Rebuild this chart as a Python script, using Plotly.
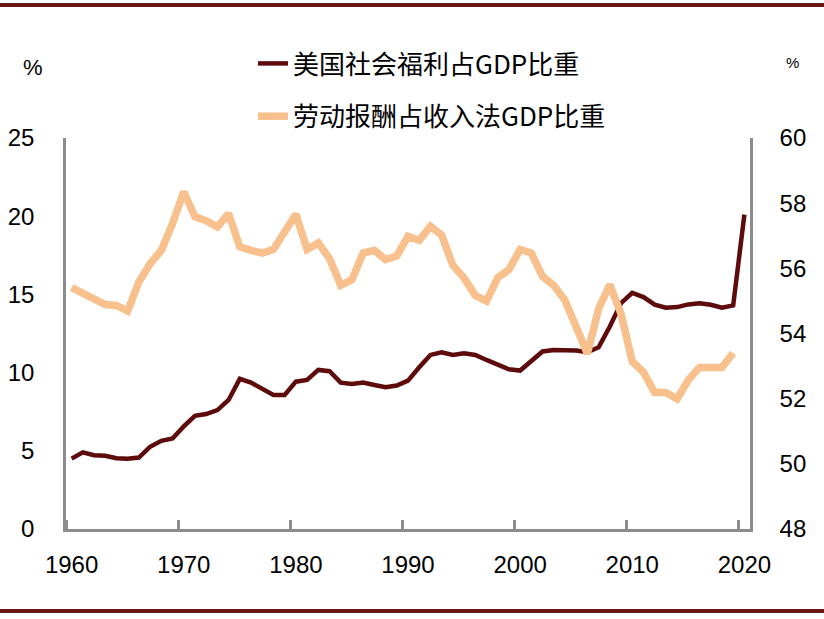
import plotly.graph_objects as go

years = list(range(1960, 2021))
welfare = [4.5, 4.9, 4.72, 4.68, 4.53, 4.49, 4.57, 5.26, 5.64, 5.79,
           6.56, 7.24, 7.35, 7.6, 8.25, 9.6, 9.36, 8.95, 8.57, 8.57,
           9.42, 9.53, 10.17, 10.09, 9.36, 9.27, 9.36, 9.21, 9.06, 9.17,
           9.49, 10.34, 11.13, 11.3, 11.13, 11.23, 11.13, 10.81, 10.49, 10.21,
           10.13, 10.77, 11.35, 11.45, 11.45, 11.41, 11.3, 11.62, 12.95, 14.44,
           15.1, 14.83, 14.34, 14.15, 14.19, 14.36, 14.44, 14.34, 14.15, 14.3,
           20.1]
labor_years = list(range(1960, 2020))
labor = [55.41, 55.22, 55.02, 54.89, 54.86, 54.69, 55.58, 56.14, 56.55, 57.37,
         58.35, 57.58, 57.46, 57.27, 57.68, 56.66, 56.55, 56.47, 56.58, 57.12,
         57.66, 56.58, 56.78, 56.3, 55.48, 55.65, 56.47, 56.55, 56.27, 56.38,
         56.98, 56.86, 57.29, 57.02, 56.09, 55.7, 55.17, 54.99, 55.71, 55.96,
         56.58, 56.47, 55.75, 55.48, 55.02, 54.2, 53.38, 54.76, 55.5, 54.6,
         53.14, 52.81, 52.19, 52.19, 51.99, 52.57, 52.96, 52.96, 52.96, 53.4]
x_labels = [1960, 1970, 1980, 1990, 2000, 2010, 2020]
left_ticks = [0, 5, 10, 15, 20, 25]
right_ticks = [48, 50, 52, 54, 56, 58, 60]

DARK = "#5E0B0B"
LIGHT = "#F7C08C"
AXIS = "#8C8C8C"
NUMFONT = "Liberation Sans, Arial, sans-serif"
CJK = "Noto Sans CJK SC, sans-serif"

fig = go.Figure()
fig.add_trace(go.Scatter(x=years, y=welfare, mode="lines", name="美国社会福利占GDP比重",
                         line=dict(color=DARK, width=4.5), legendgroup="a"))
fig.add_trace(go.Scatter(x=labor_years, y=labor, mode="lines", name="劳动报酬占收入法GDP比重",
                         line=dict(color=LIGHT, width=7.5), yaxis="y2", legendgroup="b"))

fig.update_layout(
    width=824, height=619, autosize=False,
    margin=dict(l=66, r=74, t=138, b=90, autoexpand=False),
    paper_bgcolor="white", plot_bgcolor="white",
    font=dict(family=NUMFONT, size=24, color="black"),
    xaxis=dict(range=[1959.5, 2020.5], tickvals=x_labels, ticks="",
               showline=True, linecolor=AXIS, linewidth=2.5, showgrid=False,
               zeroline=False, ticklabelstandoff=12, tickangle=0,
               tickfont=dict(family=NUMFONT, size=24, color="black"),
               minor=dict(tick0=1959.5, dtick=10, ticks="inside", ticklen=9,
                          tickwidth=2.5, tickcolor=AXIS, showgrid=False)),
    yaxis=dict(range=[0, 25], tickvals=left_ticks, ticks="", showline=True,
               linecolor=AXIS, linewidth=2.5, showgrid=False, zeroline=False,
               ticklabelstandoff=24,
               tickfont=dict(family=NUMFONT, size=24, color="black")),
    yaxis2=dict(range=[48, 60], tickvals=right_ticks, ticks="", overlaying="y",
                side="right", showline=True, linecolor=AXIS, linewidth=2.5,
                showgrid=False, zeroline=False, ticklabelstandoff=22,
                tickfont=dict(family=NUMFONT, size=24, color="black")),
    legend=dict(x=253 / 824, y=1 - 40 / 619, xref="container", yref="container",
                xanchor="left", yanchor="top",
                font=dict(family=CJK, size=26, color="black"),
                tracegroupgap=16, bgcolor="rgba(0,0,0,0)"),
    showlegend=True,
)

fig.add_annotation(text="%", xref="paper", yref="paper", x=(33 - 66) / 684, y=1.0,
                   xanchor="center", yanchor="middle", yshift=71,
                   showarrow=False, font=dict(family=NUMFONT, size=22))
fig.add_annotation(text="%", xref="paper", yref="paper", x=(792 - 66) / 684, y=1.0,
                   xanchor="center", yanchor="middle", yshift=76,
                   showarrow=False, font=dict(family=NUMFONT, size=15))

fig.add_shape(type="line", xref="paper", yref="paper", x0=-66 / 684, x1=1 + 74 / 684,
              y0=1 + 133 / 391, y1=1 + 133 / 391, line=dict(color="#6B1414", width=4))
fig.add_shape(type="line", xref="paper", yref="paper", x0=-66 / 684, x1=1 + 74 / 684,
              y0=-82 / 391, y1=-82 / 391, line=dict(color="#6B1414", width=4))

fig.write_html("out.html", config={"displayModeBar": False},
               post_script="document.body.style.margin='0';")
